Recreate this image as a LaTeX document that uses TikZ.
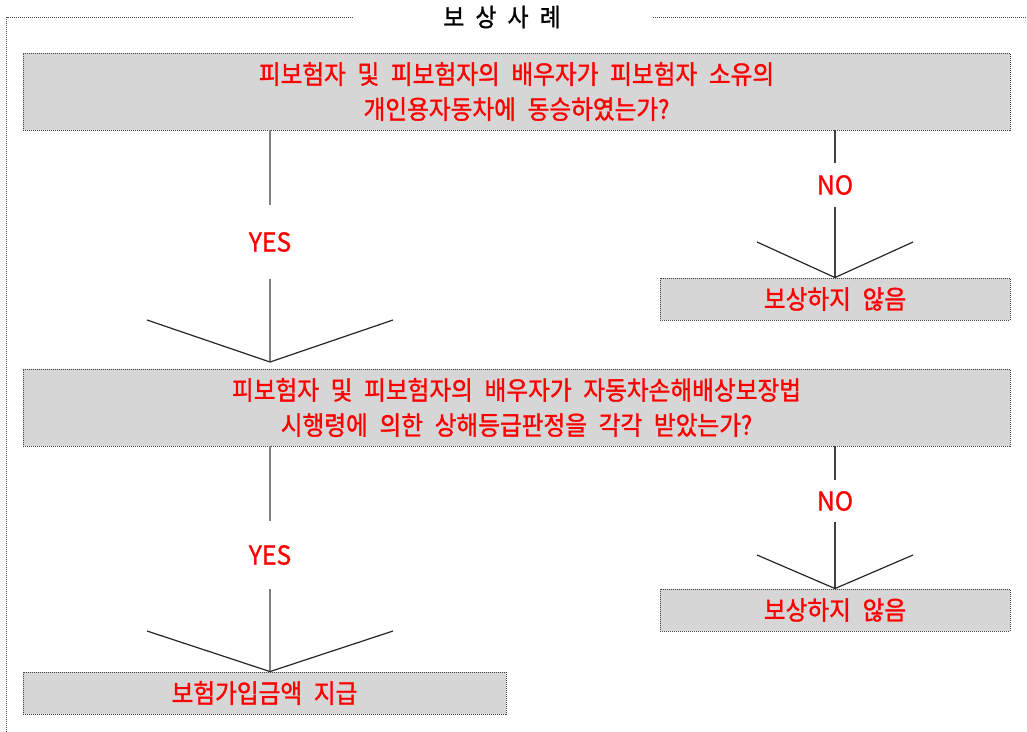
\documentclass[tikz,border=0pt]{standalone}
\usepackage{fontspec}
\newfontfamily\kr[WordSpace=2.2,FakeStretch=0.91,FakeBold=1.2]{Noto Sans CJK KR}
\newfontfamily\krl[FakeStretch=0.95,FakeBold=1.0]{Noto Sans CJK KR}
\definecolor{boxgray}{RGB}{214,214,214}
\definecolor{txtred}{RGB}{255,0,0}
\definecolor{lgray}{RGB}{128,128,128}
\definecolor{dgray}{RGB}{64,64,64}
\begin{document}
\begin{tikzpicture}[x=1pt,y=-1pt,
  frameline/.style={draw=black!70,line width=0.9pt,dash pattern=on 1pt off 1pt},
  qbox/.style={draw=black!75,line width=0.9pt,dash pattern=on 1pt off 1pt,fill=boxgray,
    inner sep=0pt,align=center,text=txtred,font=\kr\fontsize{26}{35}\selectfont},
  yesno/.style={inner sep=0pt,text=txtred,font=\krl\fontsize{26}{26}\selectfont},
  leftline/.style={draw=lgray,line width=2pt},
  rightline/.style={draw=dgray,line width=1.3pt},
  vline/.style={draw=black!85,line width=1.2pt,line join=miter},
]
\useasboundingbox (0,0) rectangle (1027,731);
% frame
\coordinate (fl) at (6.5,17);
\coordinate (fm1) at (353,17);
\coordinate (fm2) at (653,17);
\coordinate (fr) at (1027,17);
\coordinate (fb) at (6.5,731);
\draw[frameline] (fm1) -- (fl) -- (fb);
\draw[frameline] (fm2) -- (fr);
\node[inner sep=0pt,font=\kr\fontsize{25}{25}\selectfont] (title) at (502,17) {보 상 사 례};

% boxes
\node[qbox,minimum width=987pt,minimum height=77pt] (q1) at (516.5,91.5)
  {피보험자 및 피보험자의 배우자가 피보험자 소유의\\개인용자동차에 동승하였는가?};
\node[qbox,minimum width=987pt,minimum height=77pt] (q2) at (516.5,407.5)
  {피보험자 및 피보험자의 배우자가 자동차손해배상보장법\\시행령에 의한 상해등급판정을 각각 받았는가?};
\node[qbox,minimum width=350pt,minimum height=42pt] (n1) at (835,299) {보상하지 않음};
\node[qbox,minimum width=350pt,minimum height=42pt] (n2) at (835,610) {보상하지 않음};
\node[qbox,minimum width=483pt,minimum height=42pt] (pay) at (264.5,693) {보험가입금액 지급};

% labels
\node[yesno,minimum height=73pt] (yes1) at (270,242) {YES};
\node[yesno,minimum height=43pt] (no1) at (835,185) {NO};
\node[yesno,minimum height=68pt] (yes2) at (270,555) {YES};
\node[yesno,minimum height=42pt] (no2) at (835,501) {NO};

% arrow points
\coordinate (a1) at (270,362);
\coordinate (a1l) at (147,320);
\coordinate (a1r) at (393,320);
\coordinate (b1l) at (757,242);
\coordinate (b1r) at (913,242);
\coordinate (a2l) at (147,631);
\coordinate (a2r) at (393,631);
\coordinate (b2l) at (757,555);
\coordinate (b2r) at (913,555);

% connectors, first decision
\draw[leftline] (q1.south -| yes1) -- (yes1.north);
\draw[leftline] (yes1.south) -- (a1);
\draw[vline] (a1l) -- (a1) -- (a1r);
\draw[rightline] (q1.south -| no1) -- (no1.north);
\draw[rightline] (no1.south) -- (n1.north);
\draw[vline] (b1l) -- (n1.north) -- (b1r);

% connectors, second decision
\draw[leftline] (q2.south -| yes2) -- (yes2.north);
\draw[leftline] (yes2.south) -- (pay.north -| yes2);
\draw[vline] (a2l) -- (pay.north -| yes2) -- (a2r);
\draw[rightline] (q2.south -| no2) -- (no2.north);
\draw[rightline] (no2.south) -- (n2.north);
\draw[vline] (b2l) -- (n2.north) -- (b2r);
\end{tikzpicture}
\end{document}
